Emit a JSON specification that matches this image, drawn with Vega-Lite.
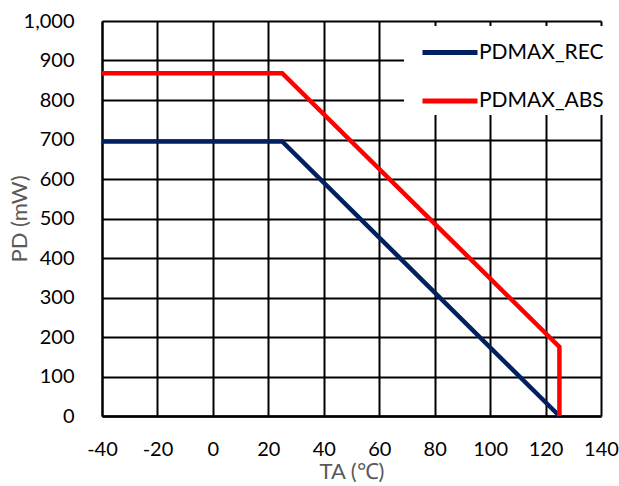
{
  "$schema": "https://vega.github.io/schema/vega-lite/v6.json",
  "width": 499,
  "height": 395,
  "autosize": {"type": "none"},
  "padding": {"left": 102, "top": 21, "right": 18, "bottom": 70},
  "background": "white",
  "config": {
    "view": {"stroke": null},
    "font": "Lato",
    "axis": {
      "gridColor": "black",
      "gridWidth": 2,
      "gridOpacity": 1,
      "domainColor": "black",
      "domainWidth": 2.5,
      "ticks": false,
      "labelColor": "black",
      "labelFont": "Lato",
      "labelFontSize": 20,
      "labelFlush": false,
      "labelOverlap": false,
      "titleColor": "#595959",
      "titleFont": "Lato",
      "titleFontSize": 22,
      "titleFontWeight": "normal"
    }
  },
  "data": {
    "values": [
      {"series": "PDMAX_REC", "i": 1, "ta": -40, "pd": 695},
      {"series": "PDMAX_REC", "i": 2, "ta": 25, "pd": 695},
      {"series": "PDMAX_REC", "i": 3, "ta": 125, "pd": 0},
      {"series": "PDMAX_ABS", "i": 1, "ta": -40, "pd": 868},
      {"series": "PDMAX_ABS", "i": 2, "ta": 25, "pd": 868},
      {"series": "PDMAX_ABS", "i": 3, "ta": 125, "pd": 175},
      {"series": "PDMAX_ABS", "i": 4, "ta": 125, "pd": 0}
    ]
  },
  "mark": {"type": "line", "strokeWidth": 4.5, "strokeJoin": "miter"},
  "encoding": {
    "x": {
      "field": "ta",
      "type": "quantitative",
      "scale": {"domain": [-40, 140], "nice": false, "zero": false},
      "axis": {
        "values": [-40, -20, 0, 20, 40, 60, 80, 100, 120, 140],
        "labelExpr": "datum.value < 0 ? '-' + abs(datum.value) : '' + datum.value",
        "title": "TA (℃)",
        "labelPadding": 23,
        "titlePadding": 2,
        "domainWidth": 2.5
      }
    },
    "y": {
      "field": "pd",
      "type": "quantitative",
      "scale": {"domain": [0, 1000], "nice": false},
      "axis": {
        "values": [0, 100, 200, 300, 400, 500, 600, 700, 800, 900, 1000],
        "format": ",d",
        "title": "PD (mW)",
        "labelPadding": 28,
        "titlePadding": -8,
        "domainWidth": 2
      }
    },
    "color": {
      "field": "series",
      "type": "nominal",
      "scale": {"domain": ["PDMAX_REC", "PDMAX_ABS"], "range": ["#002060", "#FF0000"]},
      "legend": {
        "title": null,
        "orient": "none",
        "legendX": 302,
        "legendY": 5,
        "fillColor": "white",
        "padding": 4,
        "symbolType": "M-0.4,0H2.35",
        "symbolSize": 1600,
        "symbolStrokeWidth": 5,
        "labelOffset": 26,
        "rowPadding": 15.5,
        "labelFontSize": 21,
        "labelColor": "black",
        "labelFont": "Lato"
      }
    },
    "order": {"field": "i", "type": "quantitative"}
  }
}
